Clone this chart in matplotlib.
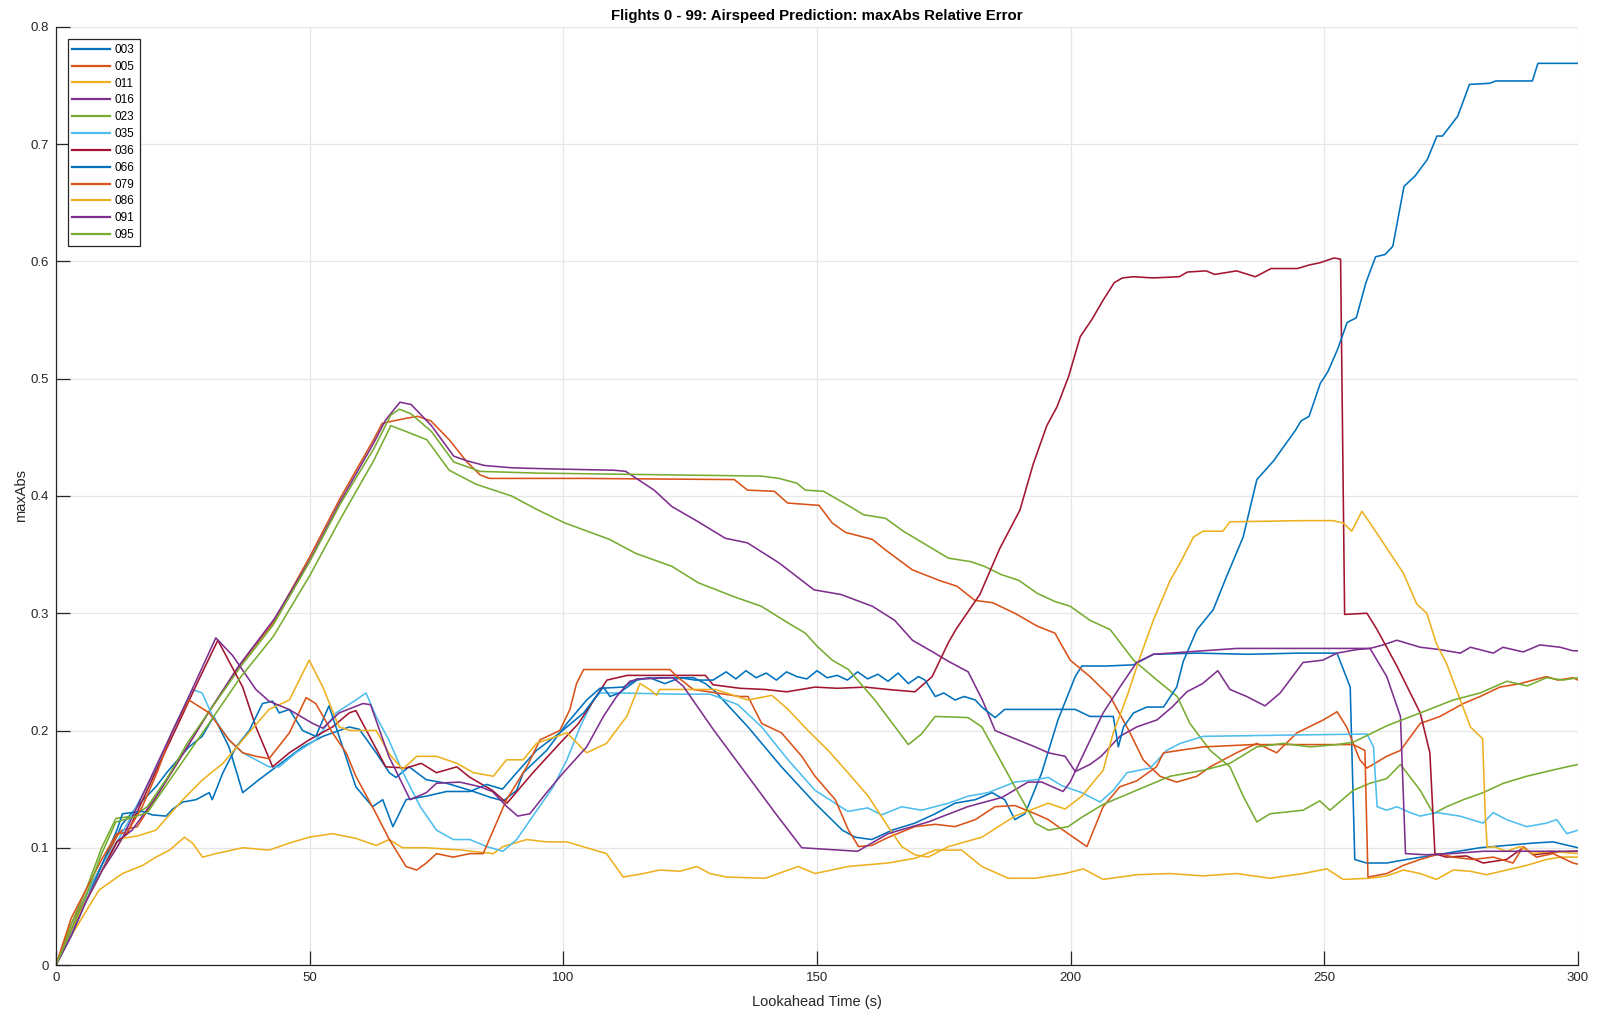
import numpy as np
import matplotlib
matplotlib.use("Agg")
import matplotlib.pyplot as plt

plt.rcParams['font.family'] = ['Liberation Sans', 'DejaVu Sans']

# (lookahead time [s], maxAbs relative error) per flight
flight_003 = [(0,0),(3,0.03),(6,0.06),(9,0.085),(12,0.11),(13,0.12),(15,0.13),(17,0.14),(19.7,0.152),(22,0.165),(26.2,0.186),(28.8,0.195),(31.1,0.212),(34.1,0.186),(36.8,0.147),(40,0.158),(43.4,0.169),(48.6,0.186),(52.6,0.195),(57.8,0.203),(59.8,0.201),(63.1,0.181),(65.7,0.164),(67,0.16),(69.6,0.169),(73,0.158),(77,0.155),(81.6,0.149),(85.6,0.143),(88.2,0.14),(90.8,0.149),(92.1,0.164),(96.7,0.183),(100.7,0.206),(104.6,0.226),(107.2,0.236),(111.8,0.237),(114.5,0.244),(119,0.245),(125.7,0.245),(128,0.24),(130,0.233),(136.4,0.203),(143,0.169),(149.6,0.138),(155,0.115),(157.5,0.109),(160.8,0.107),(164.8,0.115),(169.3,0.121),(173.3,0.129),(177.2,0.138),(181.2,0.141),(184.5,0.147),(187,0.141),(189,0.124),(191,0.129),(194.3,0.164),(197.5,0.209),(200.9,0.246),(202.2,0.255),(207,0.255),(212.4,0.256),(216.3,0.265),(225,0.266),(235,0.265),(245,0.266),(252.5,0.266),(255.1,0.237),(256,0.09),(258.3,0.087),(262.3,0.087),(266.2,0.09),(272.1,0.094),(280.7,0.1),(285.9,0.102),(291.2,0.104),(295.1,0.105),(299,0.101),(300,0.1)]

flight_005 = [(0,0),(3,0.035),(6,0.06),(9,0.085),(12,0.11),(13,0.115),(16,0.118),(20,0.145),(25,0.18),(30,0.215),(36.3,0.256),(42.8,0.292),(50,0.348),(56,0.398),(62.6,0.448),(64.3,0.462),(68.7,0.466),(71.3,0.468),(73.9,0.464),(77.5,0.448),(81,0.429),(83.6,0.418),(85.4,0.415),(103.8,0.415),(133.7,0.414),(136.3,0.405),(141.6,0.404),(144.2,0.394),(150.4,0.392),(153,0.377),(155.6,0.369),(160.9,0.363),(163.5,0.354),(168.8,0.337),(174.1,0.328),(177.6,0.323),(181.1,0.311),(184.6,0.309),(189,0.3),(193.4,0.289),(196.9,0.283),(199.9,0.26),(203.8,0.246),(207.8,0.229),(211.7,0.198),(214.3,0.175),(217.6,0.161),(220.9,0.156),(224.9,0.161),(227.5,0.169),(232.7,0.181),(236.7,0.189),(240.6,0.181),(244.6,0.198),(249.8,0.209),(252.5,0.216),(254.4,0.203),(257,0.175),(258.4,0.168),(262.3,0.178),(265,0.183),(268.9,0.206),(272.8,0.212),(277.4,0.223),(280.7,0.229),(284.6,0.237),(288.6,0.24),(293.8,0.246),(296,0.243),(299,0.245),(300,0.243)]

flight_011 = [(0,0),(3,0.025),(6.5,0.05),(8.5,0.064),(13.1,0.078),(17.1,0.085),(19.7,0.092),(22.4,0.098),(25.3,0.109),(26.9,0.104),(28.9,0.092),(31.5,0.095),(36.8,0.1),(42,0.098),(46,0.104),(49.9,0.109),(54.5,0.112),(59.1,0.108),(63.1,0.102),(65.7,0.107),(68.3,0.1),(73,0.1),(80,0.098),(86.2,0.095),(88.1,0.101),(92.8,0.107),(96.7,0.105),(100.7,0.105),(104.6,0.1),(108.5,0.095),(111.8,0.075),(115.8,0.078),(119,0.081),(123,0.08),(126.3,0.084),(128.9,0.078),(132.2,0.075),(139.8,0.074),(146.3,0.084),(149.6,0.078),(156.1,0.084),(164,0.087),(169.3,0.091),(173.3,0.098),(178.5,0.098),(182.5,0.084),(187.7,0.074),(193,0.074),(198.9,0.078),(202.5,0.082),(206.4,0.073),(213,0.077),(219.6,0.078),(226.1,0.076),(232.7,0.078),(239.3,0.074),(245.8,0.078),(250.5,0.082),(253.7,0.073),(259,0.074),(262.3,0.076),(265.6,0.081),(268.9,0.078),(272.1,0.073),(275.4,0.081),(278.7,0.08),(282,0.077),(285.9,0.081),(289.9,0.085),(293.8,0.09),(296.5,0.092),(300,0.092)]

flight_016 = [(0,0),(3,0.03),(6,0.055),(9,0.08),(12,0.105),(15,0.115),(20,0.145),(25,0.18),(30,0.215),(36,0.255),(43,0.295),(50,0.345),(56,0.395),(62.6,0.445),(65,0.465),(67.8,0.48),(70,0.478),(74,0.46),(78.4,0.434),(81,0.43),(84.5,0.426),(90,0.424),(98.6,0.423),(110,0.422),(112.3,0.421),(117.9,0.405),(121.4,0.391),(126.6,0.378),(131.9,0.364),(136.3,0.36),(142.5,0.343),(149.4,0.32),(154.7,0.316),(160.9,0.306),(165.3,0.294),(168.8,0.277),(173.2,0.266),(175.9,0.259),(179.8,0.25),(182.6,0.226),(185.1,0.2),(189,0.193),(193,0.186),(195.6,0.181),(198.9,0.178),(200.9,0.165),(203.8,0.171),(206,0.178),(209.7,0.195),(213,0.203),(217,0.209),(220,0.22),(222.9,0.233),(226,0.24),(229,0.251),(231.4,0.235),(234.7,0.229),(238.3,0.221),(241.3,0.232),(245.8,0.258),(249.7,0.26),(252.5,0.266),(256.4,0.269),(259,0.27),(261.6,0.273),(264.3,0.277),(268.9,0.271),(272.8,0.269),(276.8,0.266),(278.8,0.271),(283.3,0.266),(285.2,0.271),(289.2,0.267),(292.5,0.273),(296.5,0.271),(299,0.268),(300,0.268)]

flight_023 = [(0,0),(3,0.035),(6,0.065),(9,0.1),(11.8,0.125),(15.2,0.127),(18,0.135),(22,0.16),(26,0.19),(30,0.215),(36.3,0.254),(42.8,0.29),(50,0.344),(56,0.393),(62.6,0.44),(66,0.469),(67.7,0.474),(70,0.47),(74,0.455),(78.4,0.429),(83.6,0.421),(95,0.4195),(139,0.417),(142.5,0.415),(146,0.411),(147.7,0.405),(151.3,0.404),(156.5,0.391),(159.2,0.384),(163.5,0.381),(167,0.37),(170.5,0.361),(175.9,0.347),(180.3,0.344),(183,0.34),(186.3,0.333),(189.8,0.328),(193.4,0.317),(196.9,0.31),(199.9,0.306),(203.8,0.294),(207.8,0.286),(212.4,0.26),(217,0.243),(221,0.229),(223.5,0.206),(227.5,0.183),(231.4,0.169),(234,0.144),(236.7,0.122),(239.3,0.129),(245.8,0.132),(249.1,0.14),(251.1,0.132),(255.7,0.149),(259,0.155),(262.3,0.159),(265,0.171),(268.9,0.149),(271.5,0.129),(274.1,0.135),(277.4,0.141),(281.3,0.147),(285.3,0.155),(289.9,0.161),(293.8,0.165),(297.8,0.169),(300,0.171)]

flight_035 = [(0,0),(3,0.03),(6,0.06),(9,0.085),(12,0.105),(14,0.12),(17,0.145),(20,0.17),(23,0.2),(26.9,0.235),(28.8,0.232),(30.9,0.212),(34.1,0.192),(36.8,0.181),(39.4,0.175),(42,0.169),(44,0.169),(47.3,0.181),(51.2,0.192),(55.2,0.215),(59.1,0.226),(61.1,0.232),(63.1,0.212),(65.6,0.192),(68.4,0.164),(71.8,0.135),(75,0.115),(78.3,0.107),(81.6,0.107),(84.9,0.101),(88.1,0.097),(90.8,0.107),(94,0.127),(98,0.152),(100.7,0.175),(103.3,0.203),(105.9,0.226),(107.2,0.232),(111.2,0.232),(122.4,0.231),(128.9,0.231),(132,0.226),(134.4,0.222),(139.1,0.203),(144.3,0.175),(149.6,0.149),(156.1,0.131),(160,0.134),(162.7,0.128),(166.7,0.135),(170.6,0.132),(175.9,0.138),(179.8,0.144),(183.7,0.147),(189,0.156),(193,0.158),(195.6,0.16),(198.2,0.153),(202.2,0.147),(205.8,0.139),(208.4,0.149),(211.1,0.164),(215.7,0.168),(218.9,0.183),(221.6,0.189),(226.1,0.195),(241.3,0.196),(258.4,0.197),(259.7,0.186),(260.4,0.135),(262.3,0.132),(264.3,0.135),(266.9,0.13),(268.9,0.127),(272.1,0.13),(276.7,0.127),(281.3,0.121),(283.3,0.13),(285.9,0.124),(289.9,0.118),(293.8,0.121),(295.8,0.124),(297.8,0.112),(300,0.115)]

flight_036 = [(0,0),(3,0.03),(6,0.055),(9,0.08),(12,0.105),(14,0.112),(17,0.14),(20,0.168),(25,0.214),(28,0.242),(31.9,0.277),(36.8,0.237),(39.4,0.203),(42.7,0.169),(46,0.181),(49.9,0.192),(54.5,0.203),(57.8,0.215),(59.1,0.217),(65,0.169),(69,0.168),(72,0.172),(75,0.164),(79,0.169),(81.6,0.16),(86,0.149),(88.9,0.138),(94,0.164),(99.3,0.189),(103,0.206),(108.6,0.243),(112.6,0.247),(128,0.247),(129.5,0.239),(134.8,0.236),(139.8,0.235),(144,0.233),(149.6,0.237),(154,0.236),(159.5,0.237),(164,0.235),(169.3,0.233),(172.7,0.246),(175.9,0.275),(177.5,0.287),(182.1,0.316),(186,0.355),(190,0.388),(192.6,0.427),(195.3,0.46),(197.3,0.476),(199.6,0.502),(201.9,0.536),(204.1,0.55),(206.4,0.567),(208.6,0.582),(210.2,0.586),(212.4,0.587),(216.2,0.586),(221.4,0.587),(223,0.591),(226.7,0.592),(228.4,0.589),(232.7,0.592),(236.4,0.587),(239.5,0.594),(244.7,0.594),(247,0.597),(249.2,0.599),(251.9,0.603),(253.2,0.602),(254.0,0.299),(258.4,0.3),(260.4,0.286),(264.3,0.255),(268.9,0.215),(270.8,0.181),(271.8,0.095),(274,0.092),(278,0.093),(281.3,0.087),(285.9,0.09),(289.2,0.1),(291.2,0.094),(295.2,0.096),(299,0.097),(300,0.097)]

flight_066 = [(0,0),(3,0.025),(6,0.055),(9,0.085),(12,0.115),(13.1,0.129),(15,0.13),(17,0.131),(19,0.128),(21.7,0.127),(23,0.133),(25,0.139),(27.6,0.141),(30.2,0.147),(30.8,0.141),(32.9,0.164),(35.5,0.186),(38.1,0.2),(40.7,0.223),(42.7,0.225),(44,0.215),(46,0.218),(48.6,0.2),(51.2,0.195),(53.8,0.221),(56.5,0.186),(59.1,0.152),(62.4,0.135),(64.4,0.141),(66.4,0.118),(69,0.141),(73,0.144),(77,0.148),(81.6,0.148),(84.9,0.154),(88,0.15),(90.8,0.164),(94.7,0.183),(99.3,0.198),(104,0.215),(107.9,0.237),(109.2,0.229),(111,0.232),(114.5,0.243),(117,0.245),(120,0.24),(123,0.245),(126,0.243),(129.5,0.243),(132.1,0.25),(134,0.244),(136,0.251),(138,0.245),(140,0.249),(142,0.243),(144,0.25),(146,0.246),(148,0.244),(150,0.251),(152,0.245),(154,0.247),(156,0.243),(158,0.25),(160,0.244),(162,0.248),(164,0.242),(166,0.249),(168,0.24),(170,0.246),(171.3,0.243),(173.3,0.229),(175,0.232),(177.2,0.226),(179,0.229),(181.2,0.226),(182.5,0.22),(185.1,0.211),(187,0.218),(200.9,0.218),(203.8,0.212),(208.4,0.212),(209.4,0.186),(210.4,0.203),(212.4,0.215),(215,0.22),(218.3,0.22),(220.9,0.237),(222.2,0.259),(224.9,0.286),(228.1,0.303),(230.7,0.331),(234,0.365),(236.7,0.414),(240,0.43),(244.3,0.456),(245.4,0.464),(247,0.468),(249.2,0.496),(250.7,0.506),(252.6,0.525),(254.5,0.548),(256.3,0.552),(258.2,0.582),(260.1,0.604),(262,0.606),(263.5,0.613),(265.7,0.664),(267.9,0.673),(270.3,0.687),(272.2,0.707),(273.3,0.707),(276.3,0.724),(278.6,0.751),(282.6,0.752),(283.8,0.754),(291,0.754),(292.1,0.769),(300,0.769)]

flight_079 = [(0,0),(3,0.04),(6,0.065),(9,0.09),(12,0.112),(14,0.113),(17,0.135),(20,0.165),(23,0.2),(26.2,0.226),(30.2,0.215),(34.1,0.192),(36.8,0.181),(39.4,0.178),(42,0.176),(46,0.198),(49.3,0.228),(51.2,0.223),(54.5,0.198),(57.2,0.181),(59.1,0.161),(63.1,0.129),(65.7,0.107),(69,0.084),(71.1,0.081),(73,0.087),(75,0.095),(78.3,0.092),(81.6,0.095),(84.2,0.095),(86.2,0.115),(88.8,0.141),(92.8,0.169),(95.4,0.192),(99.3,0.2),(101.3,0.218),(102.6,0.24),(104,0.252),(121,0.252),(122.4,0.246),(125.6,0.235),(134.8,0.229),(136.4,0.229),(139.1,0.206),(143,0.198),(147,0.178),(149.6,0.161),(153.6,0.141),(156.2,0.115),(158.2,0.101),(160.8,0.102),(164.1,0.109),(169.3,0.118),(173.3,0.12),(177.2,0.118),(181.2,0.124),(185.1,0.135),(189,0.136),(193,0.129),(195.6,0.124),(199.5,0.112),(202.2,0.104),(203.2,0.101),(206.4,0.135),(209.7,0.152),(213,0.157),(216.9,0.169),(218.3,0.181),(226.1,0.186),(236,0.188),(245.8,0.188),(255.7,0.188),(258,0.183),(258.6,0.075),(262.3,0.078),(265.6,0.085),(268.9,0.09),(272.8,0.095),(275.4,0.092),(279.3,0.09),(283.3,0.092),(287.2,0.087),(289.2,0.101),(291.8,0.092),(295.1,0.095),(299,0.087),(300,0.086)]

flight_086 = [(0,0),(3,0.03),(6,0.055),(9,0.08),(13.1,0.108),(16,0.11),(19.7,0.115),(25,0.141),(28.9,0.158),(32.9,0.172),(36.8,0.192),(42,0.218),(46,0.226),(49.9,0.26),(52.6,0.237),(55.8,0.203),(58,0.2),(62,0.2),(63.1,0.2),(65.7,0.18),(68.3,0.167),(71.1,0.178),(75,0.178),(79,0.172),(82.3,0.164),(86.2,0.161),(88.8,0.175),(92.1,0.175),(94.7,0.189),(100.7,0.198),(104.6,0.181),(108.5,0.189),(112.5,0.212),(115.1,0.24),(117,0.235),(118.4,0.23),(119,0.235),(130,0.235),(136.4,0.226),(141.1,0.23),(144.3,0.218),(148.2,0.2),(152.2,0.183),(156.1,0.164),(160.1,0.144),(164,0.118),(166.7,0.101),(169.3,0.094),(171.9,0.092),(175.9,0.101),(182.5,0.109),(189,0.127),(195.6,0.138),(198.9,0.133),(202.2,0.144),(206.4,0.166),(208.4,0.198),(211.1,0.229),(213.7,0.263),(216.3,0.294),(219.6,0.328),(221.6,0.343),(224.2,0.365),(226.1,0.37),(230,0.37),(231.4,0.378),(245.8,0.379),(251.7,0.379),(253.7,0.377),(255.4,0.37),(257.4,0.387),(259,0.377),(263,0.351),(265.6,0.334),(268.2,0.308),(270.2,0.3),(272.1,0.274),(274.1,0.257),(276.8,0.226),(278.8,0.203),(281.2,0.193),(281.7,0.13),(282.1,0.1),(283.4,0.101),(285.9,0.097),(288.6,0.101),(291.2,0.095),(294.5,0.097),(300,0.095)]

flight_091 = [(0,0),(3,0.025),(6,0.055),(9,0.08),(12,0.1),(13.5,0.112),(16,0.135),(20,0.172),(25,0.218),(28,0.246),(31.5,0.279),(34.8,0.264),(39.4,0.235),(42,0.225),(45.9,0.218),(50.6,0.206),(52.6,0.202),(55.8,0.215),(60.5,0.223),(62,0.222),(65.6,0.178),(69.8,0.141),(73,0.147),(75,0.155),(79.6,0.156),(83.6,0.152),(86,0.148),(88.9,0.135),(91,0.127),(93.4,0.129),(96.7,0.147),(100,0.164),(104.6,0.186),(107.9,0.212),(110.5,0.229),(113.1,0.242),(115,0.244),(121.6,0.245),(123.6,0.238),(129.7,0.2),(136.4,0.161),(141.7,0.13),(147,0.1),(158,0.097),(164,0.112),(171.9,0.122),(179.7,0.135),(186.5,0.143),(191.6,0.156),(194.3,0.156),(198.5,0.148),(199.9,0.156),(203.2,0.186),(206.4,0.215),(209.7,0.237),(213,0.258),(216.3,0.265),(222.9,0.267),(232.8,0.27),(245.8,0.27),(259,0.27),(262.3,0.246),(265,0.212),(266,0.095),(270,0.094),(275,0.095),(281.3,0.097),(290,0.097),(300,0.097)]

flight_095 = [(0,0),(3,0.03),(6,0.06),(9,0.095),(11.8,0.122),(15.2,0.126),(18,0.13),(22,0.155),(26,0.18),(30,0.205),(36.3,0.245),(42.8,0.28),(50,0.332),(56,0.38),(62.6,0.43),(66,0.46),(69,0.455),(73.1,0.448),(77.5,0.422),(82.8,0.41),(89.8,0.4),(95,0.388),(100.3,0.377),(109.1,0.363),(114.3,0.351),(121.4,0.34),(126.6,0.326),(133.7,0.314),(139,0.306),(144.2,0.292),(147.7,0.283),(150,0.272),(153,0.26),(156.2,0.252),(161.4,0.226),(165.4,0.203),(168,0.188),(170.6,0.197),(173.3,0.212),(179.8,0.211),(182.5,0.203),(185.7,0.178),(189,0.152),(193,0.121),(195.6,0.115),(199.5,0.118),(202.2,0.126),(206.4,0.137),(213,0.149),(219.6,0.161),(226.1,0.166),(231.4,0.172),(236.7,0.186),(241.9,0.189),(247.2,0.186),(252.5,0.188),(255.7,0.19),(262.3,0.204),(268.9,0.215),(275.4,0.226),(280.7,0.232),(286,0.242),(290,0.238),(293.8,0.245),(297,0.243),(300,0.245)]

flight_ids = ['003', '005', '011', '016', '023', '035', '036', '066', '079', '086', '091', '095']
flight_data = [flight_003, flight_005, flight_011, flight_016, flight_023, flight_035,
               flight_036, flight_066, flight_079, flight_086, flight_091, flight_095]

# MATLAB default colour order, cycled
palette = ['#0072BD', '#D95319', '#EDB120', '#7E2F8E', '#77AC30', '#4DBEEE', '#A2142F']

x_ticks = [0, 50, 100, 150, 200, 250, 300]
y_ticks = [0, 0.1, 0.2, 0.3, 0.4, 0.5, 0.6, 0.7, 0.8]
y_tick_labels = ['0', '0.1', '0.2', '0.3', '0.4', '0.5', '0.6', '0.7', '0.8']

W, H = 1599, 1013
fig = plt.figure(figsize=(W / 100, H / 100), dpi=100)
ax_left, ax_right, ax_top, ax_bottom = 56, 1578, 27, 965
ax = fig.add_axes([ax_left / W, 1 - ax_bottom / H, (ax_right - ax_left) / W, (ax_bottom - ax_top) / H])

for i, (fid, pts) in enumerate(zip(flight_ids, flight_data)):
    arr = np.array(pts, dtype=float)
    ax.plot(arr[:, 0], arr[:, 1], color=palette[i % len(palette)], lw=1.15, label=fid)

ax.set_xlim(0, 300)
ax.set_ylim(0, 0.8)
ax.set_xticks(x_ticks)
ax.set_xticklabels([str(v) for v in x_ticks])
ax.set_yticks(y_ticks)
ax.set_yticklabels(y_tick_labels)

ax.grid(True, color='#e6e6e6', lw=0.9)
ax.set_axisbelow(True)
for side in ('top', 'right'):
    ax.spines[side].set_visible(False)
for side in ('left', 'bottom'):
    ax.spines[side].set_color('#262626')
    ax.spines[side].set_linewidth(0.9)
ax.tick_params(direction='in', length=10, width=0.9, colors='#262626',
               labelsize=9.5, pad=5)

ax.set_title('Flights 0 - 99: Airspeed Prediction: maxAbs Relative Error',
             fontsize=10.8, fontweight='bold', color='black', pad=5)
ax.set_xlabel('Lookahead Time (s)', fontsize=10.5, color='#262626', labelpad=8)
ax.set_ylabel('maxAbs', fontsize=10.5, color='#262626', labelpad=2)

leg = ax.legend(loc='upper left', bbox_to_anchor=(0.0077, 0.987), borderaxespad=0,
                fontsize=8.5, frameon=True, fancybox=False, framealpha=1,
                edgecolor='#262626', handlelength=3.2, handletextpad=0.4,
                labelspacing=0.41, borderpad=0.4)
leg.get_frame().set_linewidth(0.9)
for line in leg.get_lines():
    line.set_linewidth(1.6)

fig.savefig('out.png', dpi=100)
